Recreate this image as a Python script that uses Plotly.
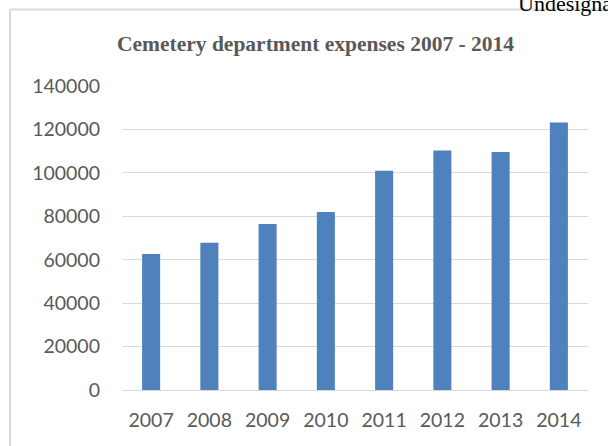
import plotly.graph_objects as go

years = ["2007", "2008", "2009", "2010", "2011", "2012", "2013", "2014"]
expenses = [62600, 67800, 76500, 82000, 101000, 110300, 109600, 123200]
y_ticks = [0, 20000, 40000, 60000, 80000, 100000, 120000, 140000]

W, H = 608, 446
L, R, T, B = 122, 20, 86, 56
pw, ph = W - L - R, H - T - B


def px_to_paper_x(px):
    return (px - L) / pw


def px_to_paper_y(py):
    return (H - B - py) / ph


tick_font = dict(family="Lato, 'Open Sans', sans-serif", size=19.5, color="#595959")
serif = "'Liberation Serif', 'Times New Roman', serif"

fig = go.Figure(
    go.Bar(
        x=years,
        y=expenses,
        marker=dict(color="#4f81bd", line=dict(width=0)),
    )
)

fig.update_layout(
    width=W,
    height=H,
    margin=dict(l=L, r=R, t=T, b=B),
    paper_bgcolor="white",
    plot_bgcolor="white",
    bargap=0.69,
    showlegend=False,
    font=tick_font,
    xaxis=dict(
        showgrid=False,
        showline=True,
        linecolor="#d9d9d9",
        linewidth=1,
        ticks="",
        ticklabelstandoff=13,
        tickfont=tick_font,
    ),
    yaxis=dict(
        range=[0, 140000],
        tickvals=y_ticks,
        ticktext=[str(v) for v in y_ticks],
        showgrid=True,
        gridcolor="#d9d9d9",
        gridwidth=1,
        zeroline=False,
        ticks="",
        ticklabelstandoff=21,
        tickfont=tick_font,
    ),
    shapes=[
        # chart frame: left and top edges
        dict(type="line", xref="paper", yref="paper",
             x0=px_to_paper_x(10), x1=px_to_paper_x(10),
             y0=px_to_paper_y(9.5), y1=px_to_paper_y(450),
             line=dict(color="#d9d9d9", width=2)),
        dict(type="line", xref="paper", yref="paper",
             x0=px_to_paper_x(10), x1=px_to_paper_x(620),
             y0=px_to_paper_y(9.5), y1=px_to_paper_y(9.5),
             line=dict(color="#d9d9d9", width=2)),
    ],
    annotations=[
        dict(text="<b>Cemetery department expenses 2007 - 2014</b>",
             xref="paper", yref="paper",
             x=px_to_paper_x(315), y=px_to_paper_y(44),
             xanchor="center", yanchor="middle", showarrow=False,
             font=dict(family=serif, size=21.5, color="#595959")),
        dict(text="Undesigna",
             xref="paper", yref="paper",
             x=px_to_paper_x(516), y=px_to_paper_y(-11),
             xanchor="left", yanchor="top", showarrow=False,
             font=dict(family=serif, size=22, color="#000000")),
    ],
)

fig.write_html("out.html")
